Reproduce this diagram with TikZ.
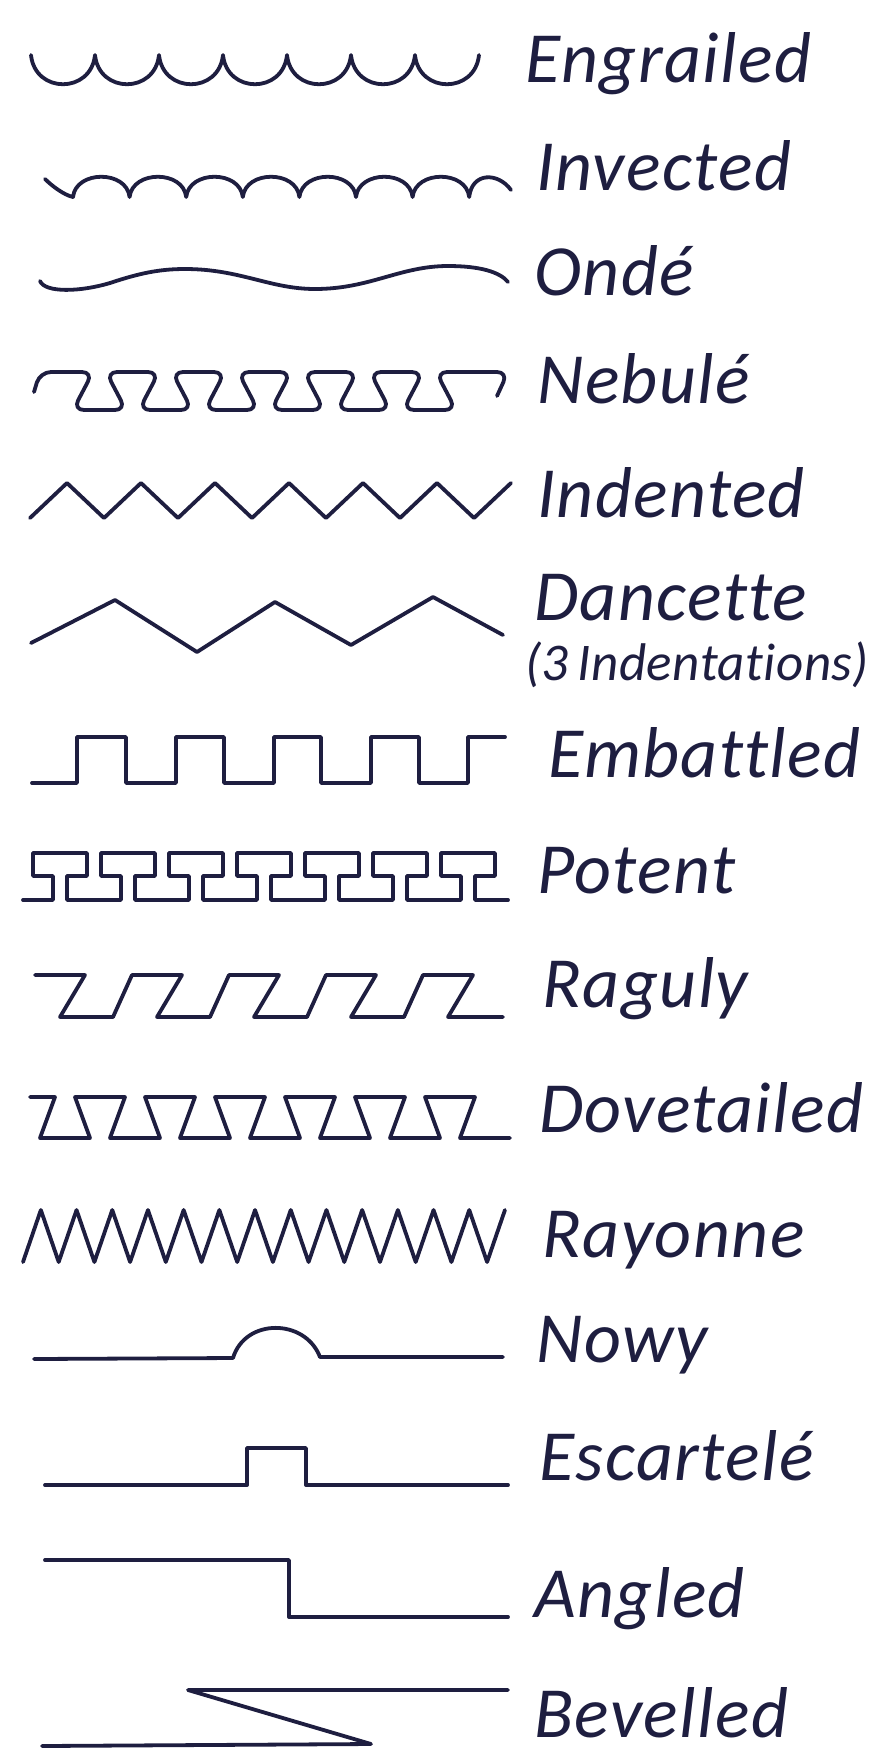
\documentclass[tikz,border=0pt]{standalone}
\usepackage{fontspec}
\setmainfont{Carlito}[Ligatures=NoCommon]
\begin{document}
\begin{tikzpicture}[x=1pt,y=-1pt]
\definecolor{ink}{HTML}{1E1E40}
\tikzset{
  ln/.style={draw=ink,line width=3.8pt,line join=round,line cap=round},
  lab/.style={anchor=base west,inner sep=0pt,text=ink,font=\fontsize{72}{74}\selectfont\itshape\addfontfeatures{LetterSpace=2}},
  smalllab/.style={lab,font=\fontsize{53}{55}\selectfont\itshape\addfontfeatures{LetterSpace=1}}
}
\useasboundingbox[fill=white] (0,0) rectangle (881,1762);

% Engrailed
\draw[ln] (31,55) \foreach \i in {0,...,6} { .. controls ({35+64*\i},94) and ({91+64*\i},94) .. ({95+64*\i},55) };
% Invected
\draw[ln] (45,179) .. controls (52,186) and (64,195) .. (73,197)
  \foreach \i in {0,...,6} { .. controls ({76+56.6*\i},170) and ({126.6+56.6*\i},170) .. ({129.6+56.6*\i},197) }
  .. controls (472,172) and (498,172) .. (511,190);
% Onde
\draw[ln] (40,281) .. controls (45,293) and (80,292) .. (110,283)
  .. controls (140,273) and (160,269) .. (185,269)
  .. controls (240,269) and (270,289) .. (315,289)
  .. controls (370,289) and (400,266) .. (448,266)
  .. controls (480,266) and (500,272) .. (508,282);
% Nebule
\draw[ln,rounded corners=11pt] (34,392) -- (40,372)
  \foreach \k in {0,...,5} {
    -- ({93+66*\k},372) -- ({73+66*\k},410) -- ({126+66*\k},410) -- ({106+66*\k},372) }
  -- (508,372) -- (497,396);
% Indented
\draw[ln] (30,518) \foreach \i in {1,...,13} { -- ({30+37*\i},{500.5+17.5*cos(180*\i)}) };
% Dancette
\draw[ln] (31,643) -- (115,600) -- (197,652) -- (275,602) -- (351,645) -- (433,597) -- (503,635);
% Embattled
\draw[ln] (32,783) -- (77,783) -- (77,737) -- (126,737) -- (126,783) -- (176,783) -- (176,737)
  -- (224,737) -- (224,783) -- (274,783) -- (274,737) -- (321,737) -- (321,783) -- (371,783)
  -- (371,737) -- (419,737) -- (419,783) -- (468,783) -- (468,737) -- (505,737);
% Potent
\draw[ln] (23,900) -- (53,900) -- (53,876) -- (33,876) -- (33,853)
  \foreach \k in {0,...,5} {
    -- ({87+68*\k},853) -- ({87+68*\k},876) -- ({67+68*\k},876) -- ({67+68*\k},900)
    -- ({121+68*\k},900) -- ({121+68*\k},876) -- ({101+68*\k},876) -- ({101+68*\k},853) }
  -- (495,853) -- (495,876) -- (475,876) -- (475,900) -- (508,900);
% Raguly
\draw[ln] (35,975)
  \foreach \k in {0,...,3} {
    -- ({85+97*\k},975) -- ({60+97*\k},1017) -- ({113+97*\k},1017) -- ({132+97*\k},975) }
  -- (473,975) -- (448,1017) -- (503,1017);
% Dovetailed
\draw[ln] (30,1097) -- (55,1097) -- (40,1138) -- (90,1138)
  \foreach \j in {0,...,5} {
    -- ({75+70*\j},1097) -- ({125+70*\j},1097) -- ({110+70*\j},1138) -- ({160+70*\j},1138) };
% Rayonne
\draw[ln] (23,1262) \foreach \i in {1,...,27} { -- ({23+17.85*\i},{1236+26*cos(180*\i)}) };
% Nowy
\draw[ln] (34,1359) -- (233,1358) .. controls (245,1318) and (305,1318) .. (320,1357) -- (503,1357);
% Escartele
\draw[ln] (45,1485) -- (247,1485) -- (247,1448) -- (306,1448) -- (306,1485) -- (508,1485);
% Angled
\draw[ln] (45,1560) -- (289,1560) -- (289,1617) -- (508,1617);
% Bevelled
\draw[ln] (508,1690) -- (188,1690) -- (371,1744) -- (42,1746);

\node[lab] (engrailed) at (525,82) {Engrailed};
\node[lab] (invected) at (536,190) {Invected};
\node[lab] (onde) at (534,295) {Ondé};
\node[lab] (nebule) at (537,403) {Nebulé};
\node[lab] (indented) at (537,517) {Indented};
\node[lab] (dancette) at (534,620) {Dancette};
\node[smalllab] (dancette2) at (525,680) {(3\,Indentations)};
\node[lab] (embattled) at (548,777) {Embattled};
\node[lab] (potent) at (537,893) {Potent};
\node[lab] (raguly) at (542,1007) {Raguly};
\node[lab] (dovetailed) at (539,1132) {Dovetailed};
\node[lab] (rayonne) at (542,1257) {Rayonne};
\node[lab] (nowy) at (536,1362) {Nowy};
\node[lab] (escartele) at (539,1480) {Escartelé};
\node[lab] (angled) at (534,1617) {Angled};
\node[lab] (bevelled) at (534,1737) {Bevelled};
\end{tikzpicture}
\end{document}
